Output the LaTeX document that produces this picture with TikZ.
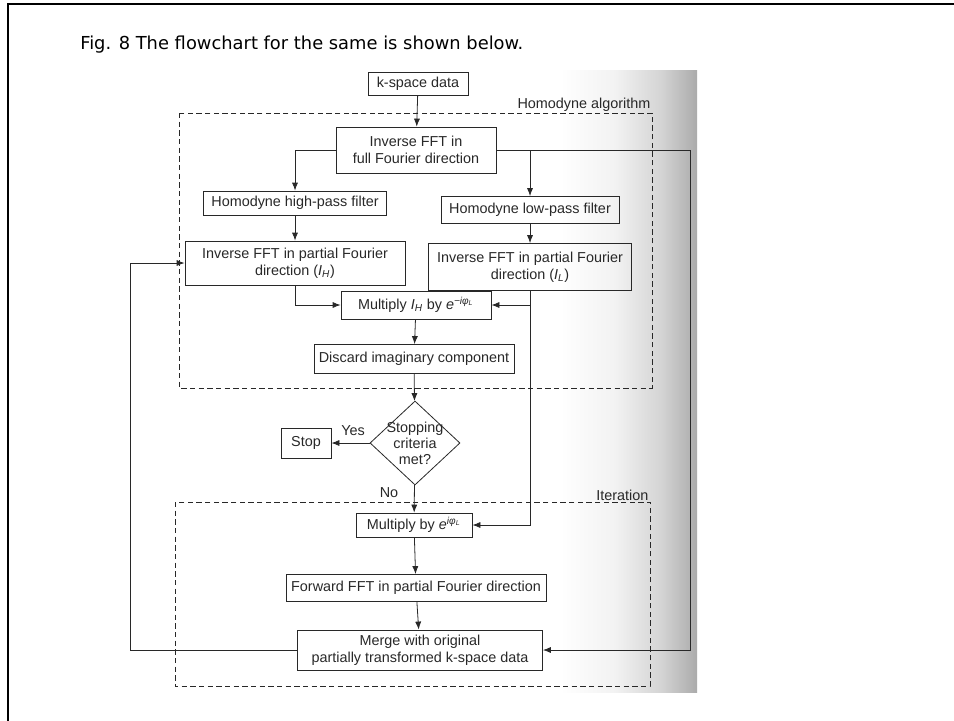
\documentclass[tikz,border=0pt]{standalone}
\usepackage{fontspec}
\setmainfont{Liberation Sans}
\newfontfamily\capfont{DejaVu Sans}
\usepackage{tikz}
\usetikzlibrary{shapes.geometric,arrows.meta}
\definecolor{inkgray}{RGB}{40,40,40}
\pgfdeclarehorizontalshading{scanedge}{100bp}{color(0bp)=(white); color(25bp)=(white); color(45bp)=(black!5); color(62bp)=(black!17); color(75bp)=(black!33); color(100bp)=(black!33)}
\newcommand{\itH}{\textit{I}\textsubscript{\textit{H}}}
\newcommand{\itL}{\textit{I}\textsubscript{\textit{L}}}
\newcommand{\phaseL}[1]{\textit{e}\textsuperscript{\textit{#1iφ}\textsubscript{\textit{L}}}}

\begin{document}
\begin{tikzpicture}[
  x=0.75pt, y=-0.75pt,
  box/.style={draw=inkgray, line width=0.6pt, inner sep=1pt, align=center,
    font=\fontsize{10.8}{13}\selectfont, text=inkgray},
  decide/.style={box, diamond, inner sep=-4pt, font=\fontsize{10.8}{12}\selectfont},
  arr/.style={-{Latex[length=6pt,width=4.6pt]}, line width=0.6pt, inkgray},
  region/.style={line width=0.6pt, inkgray, dash pattern=on 4pt off 2.5pt},
  tag/.style={inner sep=1pt, font=\fontsize{10.8}{13}\selectfont, text=inkgray}
]
\useasboundingbox (0,0) rectangle (954,721);

\shade[shading=scanedge] (560,70) rectangle (697,692);
\draw[line width=2.2pt] (8,721) -- (8,4) -- (954,4);

\node[anchor=west, inner sep=0pt, font=\capfont\fontsize{13.4}{16}\selectfont] (caption) at (80,45)
  {Fig. 8 The flowchart for the same is shown below.};

\coordinate (hnw) at (179,113);
\coordinate (hse) at (652,388);
\coordinate (inw) at (175,502);
\coordinate (ise) at (650,686);
\draw[region] (hnw) rectangle (hse);
\draw[region] (inw) rectangle (ise);
\node[tag, anchor=south east] (halgo) at (hse |- hnw) {Homodyne algorithm};
\node[tag, anchor=south east] (iter) at (ise |- inw) {Iteration};

\node[box, minimum width=75pt, minimum height=17.5pt] (kspace) at (418,84) {k-space data};
\node[box, minimum width=120pt, minimum height=34.5pt] (ifftfull) at (416,150) {Inverse FFT in\\full Fourier direction};
\node[box, minimum width=137.25pt, minimum height=18pt] (hpf) at (295,203) {Homodyne high-pass filter};
\node[box, minimum width=133.5pt, minimum height=20.25pt] (lpf) at (530,210) {Homodyne low-pass filter};
\node[box, minimum width=165pt, minimum height=33pt] (ifftH) at (295,263) {Inverse FFT in partial Fourier\\direction (\itH)};
\node[box, minimum width=152.25pt, minimum height=35.25pt] (ifftL) at (530,267) {Inverse FFT in partial Fourier\\direction (\itL)};
\node[box, minimum width=112.5pt, minimum height=21pt] (mulH) at (416,305) {Multiply \itH{} by \phaseL{−}};
\node[box, minimum width=150pt, minimum height=21.75pt] (discard) at (414,359) {Discard imaginary component};
\node[decide, minimum width=67.5pt, minimum height=63pt] (stopq) at (415,443) {Stopping\\criteria\\met?};
\node[box, minimum width=37.5pt, minimum height=22.5pt] (stop) at (306,443) {Stop};
\node[box, minimum width=87pt, minimum height=18pt] (mulE) at (414,525) {Multiply by \phaseL{}};
\node[box, minimum width=195pt, minimum height=20.25pt] (fwd) at (416,588) {Forward FFT in partial Fourier direction};
\node[box, minimum width=183.75pt, minimum height=30pt] (merge) at (420,650) {Merge with original\\partially transformed k-space data};

\node[tag] (yes) at (353,431) {Yes};
\node[tag] (no) at (389,493) {No};

\coordinate (rail) at (690,400);
\coordinate (back) at (130,400);

\draw[arr] (kspace) -- (ifftfull);
\draw[arr] (ifftfull.west) -| (hpf.north);
\draw[arr] (ifftfull.east) -| (lpf.north);
\draw[arr] (ifftfull.east) -- (ifftfull.east -| rail) |- (merge.east);
\draw[arr] (hpf) -- (ifftH);
\draw[arr] (lpf) -- (ifftL);
\draw[arr] (ifftH.south) |- (mulH.west);
\draw[arr] (ifftL.south) |- (mulH.east);
\draw[arr] (ifftL.south) |- (mulE.east);
\draw[arr] (mulH) -- (discard);
\draw[arr] (discard) -- (stopq);
\draw[arr] (stopq) -- (stop);
\draw[arr] (stopq) -- (mulE);
\draw[arr] (mulE) -- (fwd);
\draw[arr] (fwd) -- (merge);
\draw[arr] (merge.west) -- (merge.west -| back) |- (ifftH.west);

\end{tikzpicture}
\end{document}
